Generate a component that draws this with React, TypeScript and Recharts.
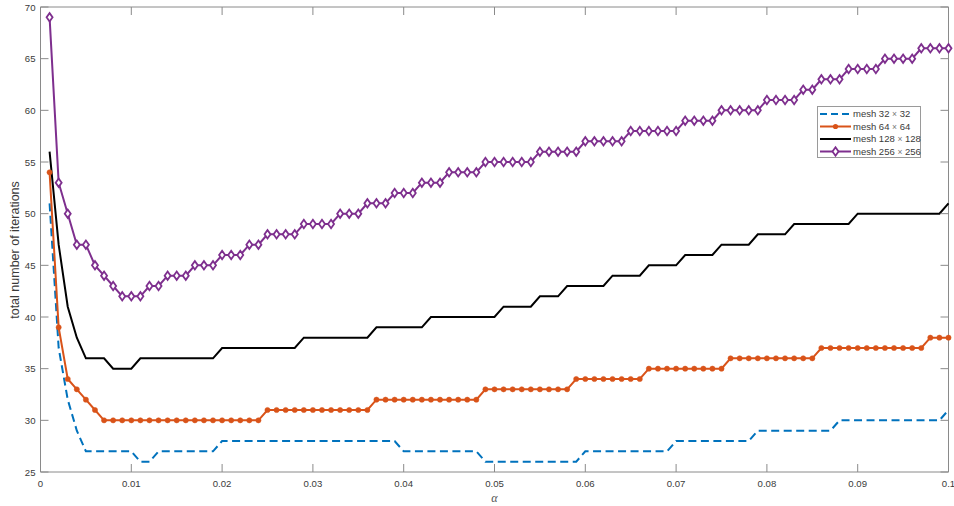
import React from 'react';
import { LineChart, Line, XAxis, YAxis, ReferenceLine, Legend } from 'recharts';

const alphas = [
  0.001, 0.002, 0.003, 0.004, 0.005, 0.006, 0.007, 0.008, 0.009, 0.01,
  0.011, 0.012, 0.013, 0.014, 0.015, 0.016, 0.017, 0.018, 0.019, 0.02,
  0.021, 0.022, 0.023, 0.024, 0.025, 0.026, 0.027, 0.028, 0.029, 0.03,
  0.031, 0.032, 0.033, 0.034, 0.035, 0.036, 0.037, 0.038, 0.039, 0.04,
  0.041, 0.042, 0.043, 0.044, 0.045, 0.046, 0.047, 0.048, 0.049, 0.05,
  0.051, 0.052, 0.053, 0.054, 0.055, 0.056, 0.057, 0.058, 0.059, 0.06,
  0.061, 0.062, 0.063, 0.064, 0.065, 0.066, 0.067, 0.068, 0.069, 0.07,
  0.071, 0.072, 0.073, 0.074, 0.075, 0.076, 0.077, 0.078, 0.079, 0.08,
  0.081, 0.082, 0.083, 0.084, 0.085, 0.086, 0.087, 0.088, 0.089, 0.09,
  0.091, 0.092, 0.093, 0.094, 0.095, 0.096, 0.097, 0.098, 0.099, 0.1,
];

const mesh32 = [
  51, 37, 32, 29, 27, 27, 27, 27, 27, 27,
  26, 26, 27, 27, 27, 27, 27, 27, 27, 28,
  28, 28, 28, 28, 28, 28, 28, 28, 28, 28,
  28, 28, 28, 28, 28, 28, 28, 28, 28, 27,
  27, 27, 27, 27, 27, 27, 27, 27, 26, 26,
  26, 26, 26, 26, 26, 26, 26, 26, 26, 27,
  27, 27, 27, 27, 27, 27, 27, 27, 27, 28,
  28, 28, 28, 28, 28, 28, 28, 28, 29, 29,
  29, 29, 29, 29, 29, 29, 29, 30, 30, 30,
  30, 30, 30, 30, 30, 30, 30, 30, 30, 31,
];

const mesh64 = [
  54, 39, 34, 33, 32, 31, 30, 30, 30, 30,
  30, 30, 30, 30, 30, 30, 30, 30, 30, 30,
  30, 30, 30, 30, 31, 31, 31, 31, 31, 31,
  31, 31, 31, 31, 31, 31, 32, 32, 32, 32,
  32, 32, 32, 32, 32, 32, 32, 32, 33, 33,
  33, 33, 33, 33, 33, 33, 33, 33, 34, 34,
  34, 34, 34, 34, 34, 34, 35, 35, 35, 35,
  35, 35, 35, 35, 35, 36, 36, 36, 36, 36,
  36, 36, 36, 36, 36, 37, 37, 37, 37, 37,
  37, 37, 37, 37, 37, 37, 37, 38, 38, 38,
];

const mesh128 = [
  56, 47, 41, 38, 36, 36, 36, 35, 35, 35,
  36, 36, 36, 36, 36, 36, 36, 36, 36, 37,
  37, 37, 37, 37, 37, 37, 37, 37, 38, 38,
  38, 38, 38, 38, 38, 38, 39, 39, 39, 39,
  39, 39, 40, 40, 40, 40, 40, 40, 40, 40,
  41, 41, 41, 41, 42, 42, 42, 43, 43, 43,
  43, 43, 44, 44, 44, 44, 45, 45, 45, 45,
  46, 46, 46, 46, 47, 47, 47, 47, 48, 48,
  48, 48, 49, 49, 49, 49, 49, 49, 49, 50,
  50, 50, 50, 50, 50, 50, 50, 50, 50, 51,
];

const mesh256 = [
  69, 53, 50, 47, 47, 45, 44, 43, 42, 42,
  42, 43, 43, 44, 44, 44, 45, 45, 45, 46,
  46, 46, 47, 47, 48, 48, 48, 48, 49, 49,
  49, 49, 50, 50, 50, 51, 51, 51, 52, 52,
  52, 53, 53, 53, 54, 54, 54, 54, 55, 55,
  55, 55, 55, 55, 56, 56, 56, 56, 56, 57,
  57, 57, 57, 57, 58, 58, 58, 58, 58, 58,
  59, 59, 59, 59, 60, 60, 60, 60, 60, 61,
  61, 61, 61, 62, 62, 63, 63, 63, 64, 64,
  64, 64, 65, 65, 65, 65, 66, 66, 66, 66,
];

const xTicks = [0, 0.01, 0.02, 0.03, 0.04, 0.05, 0.06, 0.07, 0.08, 0.09, 0.1];
const xTickLabels = ['0', '0.01', '0.02', '0.03', '0.04', '0.05', '0.06', '0.07', '0.08', '0.09', '0.1'];
const yTicks = [25, 30, 35, 40, 45, 50, 55, 60, 65, 70];
const seriesKeys = ['m32', 'm64', 'm128', 'm256'];
const seriesSizes = ['32', '64', '128', '256'];
const xLabel = '\u03b1';
const yLabel = 'total number of iterations';

const data = alphas.map((a, i) => ({
  alpha: a,
  m32: mesh32[i],
  m64: mesh64[i],
  m128: mesh128[i],
  m256: mesh256[i],
}));

const W = 954;
const H = 506;
const PLOT_LEFT = 40.5;
const PLOT_RIGHT = 948.5;
const PLOT_TOP = 7;
const PLOT_BOTTOM = 472;
const TICK = 8;
const AXIS_COLOR = '#8a8a8a';
const TEXT_COLOR = '#3a3a3a';
const FONT = '"Liberation Sans", Arial, Helvetica, sans-serif';

const COLORS = ['#0072BD', '#D95319', '#000000', '#7E2F8E'];

const DW = 3.0;
const DH = 4.2;

const XTick = (props: any) => {
  const { x, payload } = props;
  const idx = xTicks.indexOf(payload.value);
  const label = idx >= 0 ? xTickLabels[idx] : String(payload.value);
  return (
    <g>
      <line x1={x} x2={x} y1={PLOT_BOTTOM} y2={PLOT_BOTTOM - TICK} stroke={AXIS_COLOR} strokeWidth={1} />
      <line x1={x} x2={x} y1={PLOT_TOP} y2={PLOT_TOP + TICK} stroke={AXIS_COLOR} strokeWidth={1} />
      <text x={x} y={PLOT_BOTTOM + 15} textAnchor="middle" fontSize={9.6} fill={TEXT_COLOR} fontFamily={FONT}>
        {label}
      </text>
    </g>
  );
};

const YTick = (props: any) => {
  const { y, payload } = props;
  return (
    <g>
      <line x1={PLOT_LEFT} x2={PLOT_LEFT + TICK} y1={y} y2={y} stroke={AXIS_COLOR} strokeWidth={1} />
      <line x1={PLOT_RIGHT} x2={PLOT_RIGHT - TICK} y1={y} y2={y} stroke={AXIS_COLOR} strokeWidth={1} />
      <text x={PLOT_LEFT - 5} y={y + 3.5} textAnchor="end" fontSize={9.6} fill={TEXT_COLOR} fontFamily={FONT}>
        {payload.value}
      </text>
    </g>
  );
};

const Diamond = (props: any) => {
  const { cx, cy } = props;
  if (cx == null || cy == null) return null;
  return (
    <path
      d={`M${cx},${cy - DH}L${cx + DW},${cy}L${cx},${cy + DH}L${cx - DW},${cy}Z`}
      fill="#ffffff"
      stroke={COLORS[3]}
      strokeWidth={1.8}
    />
  );
};

const Dot = (props: any) => {
  const { cx, cy } = props;
  if (cx == null || cy == null) return null;
  return <circle cx={cx} cy={cy} r={2.6} fill={COLORS[1]} stroke={COLORS[1]} strokeWidth={0.5} />;
};

const LegendContent = () => {
  const rowH = 12.5;
  return (
    <svg width={104} height={52} style={{ display: 'block' }}>
      <rect x={0.5} y={0.5} width={103} height={51} fill="#ffffff" stroke="#9a9a9a" strokeWidth={1} />
      {seriesSizes.map((s, i) => {
        const cy = 8 + i * rowH;
        const x1 = 3;
        const x2 = 34;
        const mid = (x1 + x2) / 2;
        return (
          <g key={s}>
            <line
              x1={x1}
              x2={x2}
              y1={cy}
              y2={cy}
              stroke={COLORS[i]}
              strokeWidth={i === 0 ? 1.8 : 2}
              strokeDasharray={i === 0 ? '7 4' : undefined}
            />
            {i === 1 && <circle cx={mid} cy={cy} r={2.6} fill={COLORS[1]} />}
            {i === 3 && (
              <path
                d={`M${mid},${cy - DH}L${mid + DW},${cy}L${mid},${cy + DH}L${mid - DW},${cy}Z`}
                fill="#ffffff"
                stroke={COLORS[3]}
                strokeWidth={1.8}
              />
            )}
            <text x={36} y={cy + 3.4} fontSize={9.5} fill={TEXT_COLOR} fontFamily={FONT}>
              {'mesh ' + s + ' '}
              <tspan fill="#777" fontSize={8.5}>{'\u00d7'}</tspan>
              {' ' + s}
            </text>
          </g>
        );
      })}
    </svg>
  );
};

const YLabel = () => (
  <text
    x={0}
    y={0}
    transform={`translate(19, ${250}) rotate(-90)`}
    textAnchor="middle"
    fontSize={12.5}
    fill={TEXT_COLOR}
    fontFamily={FONT}
  >
    {yLabel}
  </text>
);

const XLabel = () => (
  <text
    x={494.5}
    y={502}
    textAnchor="middle"
    fontSize={12}
    fontStyle="italic"
    fill="#555"
    fontFamily='"Liberation Serif", "DejaVu Serif", serif'
  >
    {xLabel}
  </text>
);

export default function App() {
  return (
    <div style={{ position: 'absolute', left: 0, top: 0, width: W, height: H, background: '#ffffff' }}>
      <LineChart
        width={W}
        height={H}
        data={data}
        margin={{ top: PLOT_TOP, right: W - PLOT_RIGHT, bottom: H - PLOT_BOTTOM - 20, left: 0 }}
      >
        <XAxis
          dataKey="alpha"
          type="number"
          domain={[0, 0.1]}
          ticks={xTicks}
          interval={0}
          height={20}
          tickSize={0}
          tickMargin={0}
          tickLine={false}
          axisLine={{ stroke: AXIS_COLOR, strokeWidth: 1 }}
          tick={<XTick />}
          label={<XLabel />}
        />
        <YAxis
          type="number"
          domain={[25, 70]}
          ticks={yTicks}
          interval={0}
          width={PLOT_LEFT}
          tickSize={0}
          tickMargin={0}
          tickLine={false}
          axisLine={{ stroke: AXIS_COLOR, strokeWidth: 1 }}
          tick={<YTick />}
          label={<YLabel />}
        />
        <ReferenceLine y={70} stroke={AXIS_COLOR} strokeWidth={1} />
        <ReferenceLine x={0.1} stroke={AXIS_COLOR} strokeWidth={1} />
        <Line
          dataKey={seriesKeys[0]}
          stroke={COLORS[0]}
          strokeWidth={2}
          strokeDasharray="8 4.5"
          dot={false}
          activeDot={false}
          isAnimationActive={false}
          type="linear"
        />
        <Line
          dataKey={seriesKeys[1]}
          stroke={COLORS[1]}
          strokeWidth={2}
          dot={<Dot />}
          activeDot={false}
          isAnimationActive={false}
          type="linear"
        />
        <Line
          dataKey={seriesKeys[2]}
          stroke={COLORS[2]}
          strokeWidth={2}
          dot={false}
          activeDot={false}
          isAnimationActive={false}
          type="linear"
        />
        <Line
          dataKey={seriesKeys[3]}
          stroke={COLORS[3]}
          strokeWidth={2}
          dot={<Diamond />}
          activeDot={false}
          isAnimationActive={false}
          type="linear"
        />
        <Legend
          layout="horizontal"
          verticalAlign="middle"
          align="center"
          content={<LegendContent />}
          wrapperStyle={{ position: 'absolute', left: 817, top: 106, width: 104, height: 52, margin: 0, padding: 0 }}
        />
      </LineChart>
    </div>
  );
}
